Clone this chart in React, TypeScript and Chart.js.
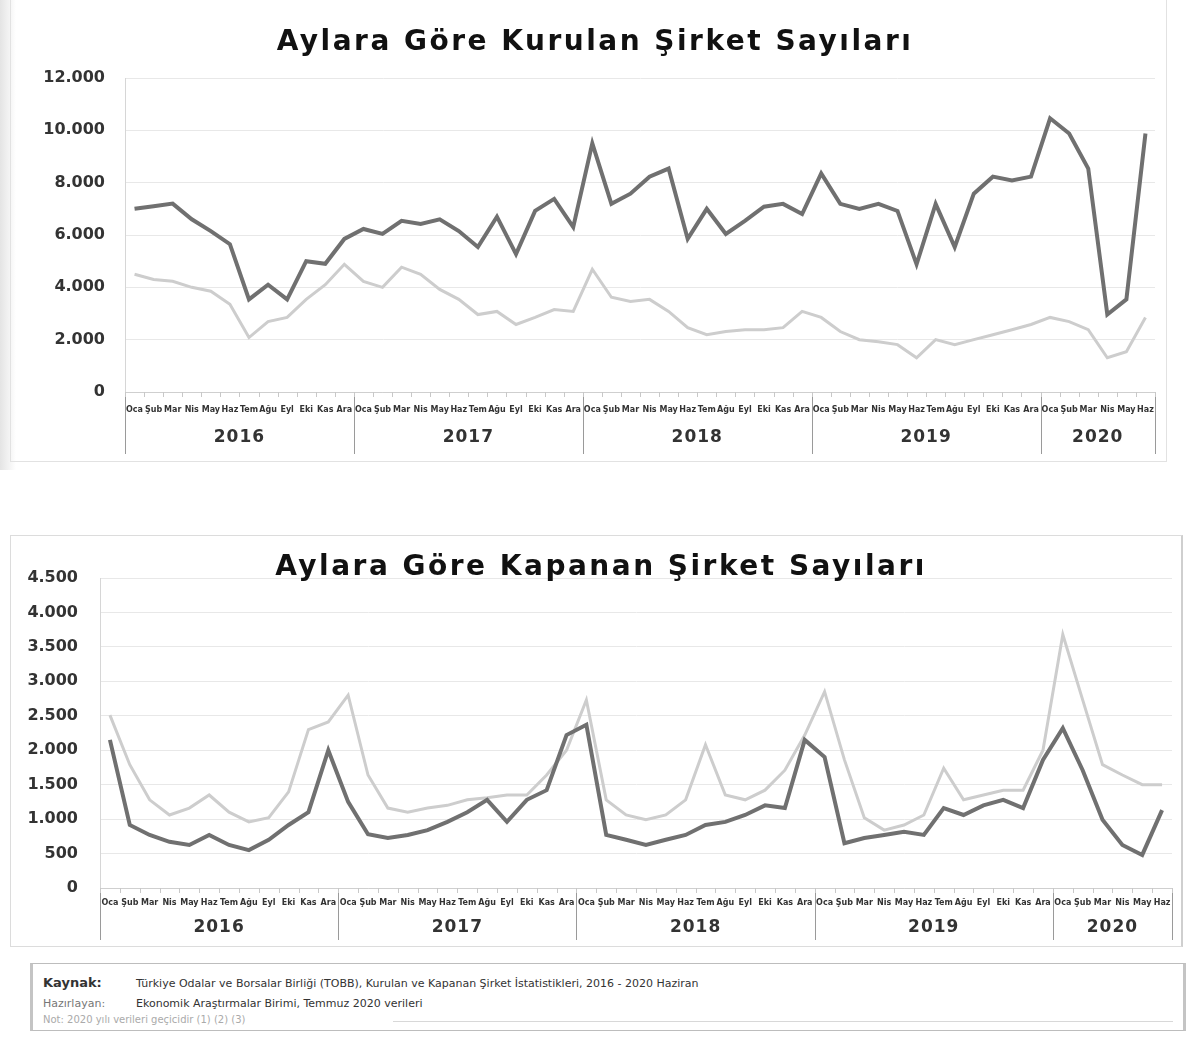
import React, { useEffect, useRef } from "react";
import { Chart, registerables } from "chart.js";

Chart.register(...registerables);

const FONT = "'DejaVu Sans', Verdana, sans-serif";

const years = ["2016", "2017", "2018", "2019", "2020"];
const monthsPerYear = [12, 12, 12, 12, 6];
const monthNames = ["Oca", "Şub", "Mar", "Nis", "May", "Haz", "Tem", "Ağu", "Eyl", "Eki", "Kas", "Ara"];

const categories: string[] = [];
const categoryYears: string[] = [];
years.forEach((y, yi) => {
  for (let m = 0; m < monthsPerYear[yi]; m++) {
    categories.push(monthNames[m]);
    categoryYears.push(y);
  }
});

// Aylara göre kurulan şirket sayıları
const kurulanKoyu = [
  7000, 7100, 7200, 6600, 6150, 5650, 3540, 4100, 3540, 5000, 4900, 5850,
  6230, 6040, 6540, 6420, 6600, 6150, 5540, 6700, 5270, 6920, 7380, 6300,
  9500, 7190, 7580, 8230, 8540, 5850, 7000, 6040, 6540, 7080, 7190, 6800,
  8350, 7190, 7000, 7190, 6920, 4880, 7190, 5540, 7580, 8230, 8080, 8230,
  10460, 9880, 8540, 2960, 3540, 9880,
];
const kurulanAcik = [
  4500, 4300, 4230, 4000, 3850, 3350, 2080, 2690, 2850, 3540, 4100, 4880,
  4230, 4000, 4770, 4500, 3920, 3540, 2960, 3080, 2580, 2850, 3150, 3080,
  4690, 3620, 3460, 3540, 3080, 2460, 2190, 2310, 2380, 2380, 2460, 3080,
  2850, 2310, 2000, 1920, 1810, 1310, 2000, 1810, 2000, 2190, 2380, 2580,
  2850, 2690, 2380, 1310, 1540, 2850,
];

// Aylara göre kapanan şirket sayıları
const kapananKoyu = [
  2150, 915, 770, 670, 625, 770, 625, 550, 700, 915, 1100, 2000,
  1250, 780, 725, 770, 840, 960, 1100, 1280, 960, 1280, 1420, 2220,
  2370, 770, 700, 625, 700, 770, 915, 960, 1060, 1200, 1160, 2150,
  1900, 650, 725, 770, 815, 770, 1160, 1060, 1200, 1280, 1160, 1860,
  2320, 1710, 990, 625, 480, 1130,
];
const kapananAcik = [
  2510, 1790, 1280, 1060, 1160, 1350, 1100, 960, 1020, 1395, 2300, 2410,
  2800, 1640, 1160, 1100, 1160, 1200, 1280, 1310, 1350, 1350, 1640, 2000,
  2730, 1280, 1060, 990, 1060, 1280, 2080, 1350, 1280, 1420, 1710, 2220,
  2850, 1860, 1020, 840, 915, 1060, 1740, 1280, 1350, 1420, 1420, 2000,
  3680, 2730, 1790, 1640, 1500, 1500,
];

const fmt = (v: number) => {
  const s = String(Math.round(v));
  return s.replace(/\B(?=(\d{3})+(?!\d))/g, ".");
};

const titlePlugin = {
  id: "customTitle",
  afterDraw(chart: any, _args: any, opts: any) {
    if (!opts || !opts.text) return;
    const ctx = chart.ctx;
    ctx.save();
    ctx.font = `bold ${opts.size}px ${FONT}`;
    try {
      (ctx as any).letterSpacing = `${opts.spacing || 0}px`;
    } catch (e) {}
    ctx.fillStyle = "#111";
    ctx.textAlign = "center";
    ctx.textBaseline = "middle";
    ctx.fillText(opts.text, opts.x, opts.y);
    ctx.restore();
  },
};

const yearAxisPlugin = {
  id: "yearAxis",
  afterDraw(chart: any, _args: any, opts: any) {
    const xs = chart.scales.x;
    const area = chart.chartArea;
    const ctx = chart.ctx;
    const step = xs.getPixelForValue(1) - xs.getPixelForValue(0);
    ctx.save();
    ctx.strokeStyle = "#9a9a9a";
    ctx.lineWidth = 1;
    ctx.fillStyle = "#333";
    ctx.font = `bold ${opts.size}px ${FONT}`;
    try {
      (ctx as any).letterSpacing = "1px";
    } catch (e) {}
    ctx.textAlign = "center";
    ctx.textBaseline = "middle";
    let started = false;
    const bounds: number[] = [];
    years.forEach((y) => {
      let first = -1;
      let last = -1;
      categoryYears.forEach((cy, i) => {
        if (cy === y) {
          if (first < 0) first = i;
          last = i;
        }
      });
      if (first < 0) return;
      const x0 = xs.getPixelForValue(first) - step / 2;
      const x1 = xs.getPixelForValue(last) + step / 2;
      if (!started) bounds.push(x0);
      bounds.push(x1);
      started = true;
      ctx.fillText(y, (x0 + x1) / 2, area.bottom + opts.labelOffset);
    });
    bounds.forEach((bx) => {
      const x = Math.round(bx) + 0.5;
      ctx.beginPath();
      ctx.moveTo(x, area.bottom);
      ctx.lineTo(x, area.bottom + opts.sepLength);
      ctx.stroke();
    });
    ctx.strokeStyle = "#c8c8c8";
    for (let i = 0; i <= categories.length; i++) {
      const x = Math.round(xs.getPixelForValue(0) - step / 2 + i * step) + 0.5;
      ctx.beginPath();
      ctx.moveTo(x, area.bottom);
      ctx.lineTo(x, area.bottom + 5);
      ctx.stroke();
    }
    ctx.restore();
  },
};

type ChartProps = {
  width: number;
  height: number;
  title: string;
  titleX: number;
  titleY: number;
  dark: number[];
  light: number[];
  yMax: number;
  yStep: number;
  yWidth: number;
  yPad: number;
  top: number;
  right: number;
  xHeight: number;
  monthPad: number;
  yearOffset: number;
  sepLength: number;
};

function LineChart(p: ChartProps) {
  const ref = useRef<HTMLCanvasElement | null>(null);
  useEffect(() => {
    if (!ref.current) return;
    const chart = new Chart(ref.current, {
      type: "line",
      data: {
        labels: categories,
        datasets: [
          {
            label: "Toplam",
            data: p.dark,
            borderColor: "#707070",
            borderWidth: 4,
            pointRadius: 0,
            tension: 0,
            order: 0,
          },
          {
            label: "Diğer",
            data: p.light,
            borderColor: "#cdcdcd",
            borderWidth: 3,
            pointRadius: 0,
            tension: 0,
            order: 1,
          },
        ],
      },
      options: {
        responsive: false,
        animation: false,
        devicePixelRatio: 1,
        layout: { padding: { top: p.top, right: p.right, left: 0, bottom: 0 } },
        plugins: {
          legend: { display: false },
          tooltip: { enabled: false },
          title: { display: false },
          customTitle: { text: p.title, x: p.titleX, y: p.titleY, size: 28, spacing: 2.5 },
          yearAxis: { size: 17, labelOffset: p.yearOffset, sepLength: p.sepLength },
        } as any,
        scales: {
          x: {
            offset: true,
            grid: { display: false, drawTicks: false },
            border: { display: true, color: "#cfcfcf" },
            ticks: {
              autoSkip: false,
              maxRotation: 0,
              minRotation: 0,
              padding: p.monthPad,
              color: "#333",
              font: { size: 8, weight: "bold", family: FONT },
            },
            afterFit: (s: any) => {
              s.height = p.xHeight;
            },
          },
          y: {
            min: 0,
            max: p.yMax,
            ticks: {
              stepSize: p.yStep,
              padding: p.yPad,
              color: "#333",
              font: { size: 16, weight: "bold", family: FONT },
              callback: (v: any) => fmt(Number(v)),
            },
            grid: { color: "#e8e8e8", drawTicks: false },
            border: { display: true, color: "#d6d6d6" },
            afterFit: (s: any) => {
              s.width = p.yWidth;
            },
          },
        },
      } as any,
      plugins: [titlePlugin, yearAxisPlugin],
    });
    return () => chart.destroy();
  }, []);
  return (
    <canvas
      ref={ref}
      width={p.width}
      height={p.height}
      style={{ width: p.width, height: p.height, display: "block" }}
    />
  );
}

export default function App() {
  return (
    <div
      style={{
        position: "absolute",
        left: 0,
        top: 0,
        width: 1200,
        height: 1042,
        background: "#fff",
        overflow: "hidden",
        fontFamily: FONT,
      }}
    >
      <div
        style={{
          position: "absolute",
          left: 0,
          top: 0,
          width: 16,
          height: 470,
          background: "linear-gradient(to right, #e4e4e4, #ffffff)",
        }}
      />
      <div
        style={{
          position: "absolute",
          left: 10,
          top: -2,
          width: 1155,
          height: 462,
          border: "1px solid #e2e2e2",
        }}
      />
      <div style={{ position: "absolute", left: 10, top: 0 }}>
        <LineChart
          width={1160}
          height={462}
          title="Aylara Göre Kurulan Şirket Sayıları"
          titleX={585}
          titleY={43}
          dark={kurulanKoyu}
          light={kurulanAcik}
          yMax={12000}
          yStep={2000}
          yWidth={115}
          yPad={20}
          top={78}
          right={15}
          xHeight={70}
          monthPad={13}
          yearOffset={46}
          sepLength={62}
        />
      </div>
      <div
        style={{
          position: "absolute",
          left: 10,
          top: 535,
          width: 1170,
          height: 410,
          border: "1px solid #dcdcdc",
          borderRight: "2px solid #cfcfcf",
        }}
      />
      <div style={{ position: "absolute", left: 10, top: 535 }}>
        <LineChart
          width={1175}
          height={410}
          title="Aylara Göre Kapanan Şirket Sayıları"
          titleX={591}
          titleY={33}
          dark={kapananKoyu}
          light={kapananAcik}
          yMax={4500}
          yStep={500}
          yWidth={90}
          yPad={22}
          top={43}
          right={13}
          xHeight={57}
          monthPad={10}
          yearOffset={40}
          sepLength={52}
        />
      </div>
      <div
        style={{
          position: "absolute",
          left: 30,
          top: 963,
          width: 1150,
          height: 66,
          border: "1px solid #bdbdbd",
          borderLeft: "3px solid #c4c4c4",
          borderRight: "3px solid #c4c4c4",
          fontSize: 11,
          color: "#333",
        }}
      >
        <div style={{ position: "absolute", left: 10, top: 11, fontWeight: "bold", fontSize: 13 }}>
          Kaynak:
        </div>
        <div style={{ position: "absolute", left: 103, top: 13 }}>
          Türkiye Odalar ve Borsalar Birliği (TOBB), Kurulan ve Kapanan Şirket İstatistikleri, 2016 - 2020 Haziran
        </div>
        <div style={{ position: "absolute", left: 10, top: 33, color: "#777" }}>Hazırlayan:</div>
        <div style={{ position: "absolute", left: 103, top: 33 }}>
          Ekonomik Araştırmalar Birimi, Temmuz 2020 verileri
        </div>
        <div
          style={{
            position: "absolute",
            left: 10,
            top: 50,
            fontSize: 10,
            color: "#aaa",
            whiteSpace: "nowrap",
          }}
        >
          Not: 2020 yılı verileri geçicidir (1) (2) (3)
        </div>
        <div
          style={{
            position: "absolute",
            left: 360,
            right: 10,
            top: 57,
            borderTop: "1px solid #d8d8d8",
          }}
        />
      </div>
    </div>
  );
}
